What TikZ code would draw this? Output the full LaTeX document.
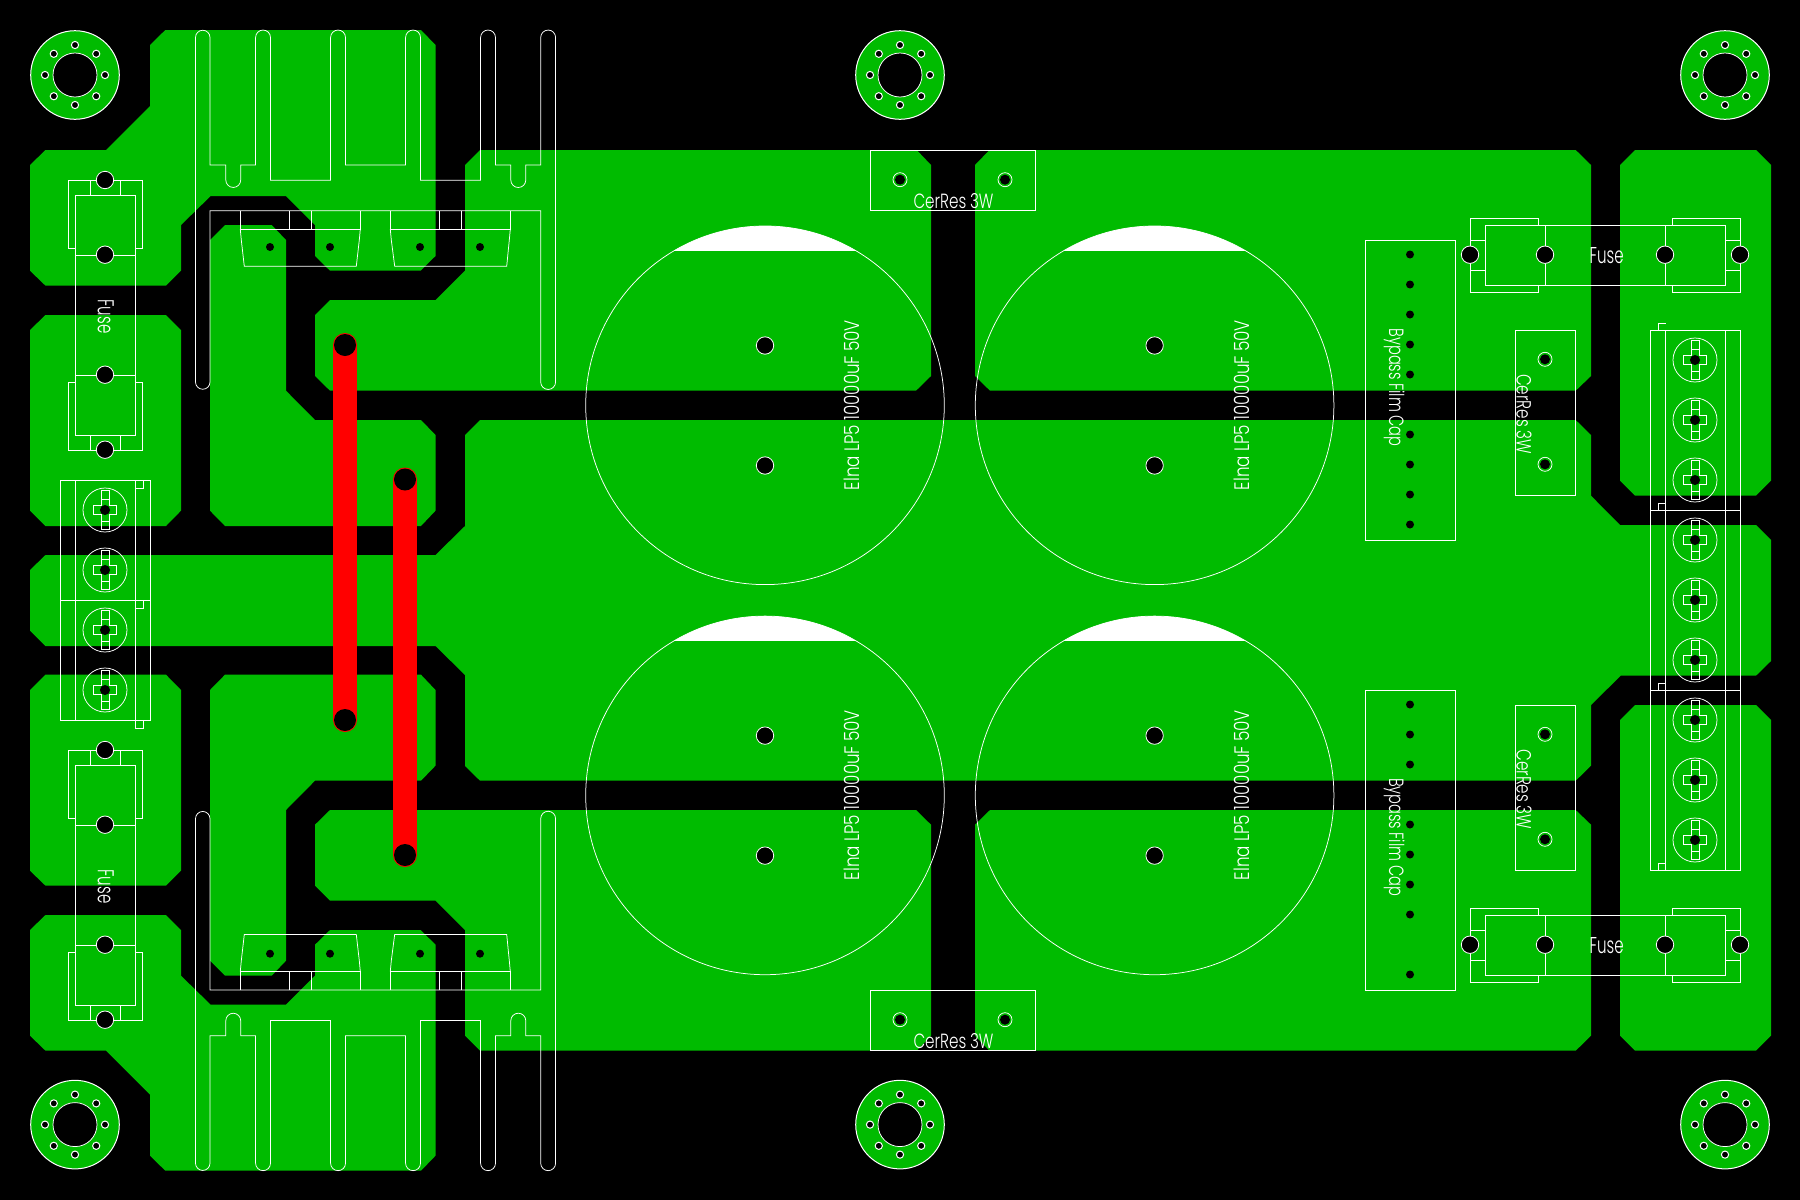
\documentclass[tikz,border=0pt]{standalone}
\usepackage{graphicx}
\usepackage{fontspec}
\newfontfamily\labfont{Poppins Light}
\definecolor{pcbgreen}{RGB}{0,187,0}
\definecolor{tracered}{RGB}{255,0,0}
\tikzset{
  x=1pt,y=-1pt,
  copper/.style={fill=pcbgreen,draw=none},
  wl/.style={draw=white,line width=1pt,line join=miter},
  thinl/.style={draw=white,line width=0.75pt},
  bighole/.style={fill=black,draw=white,line width=0.8pt},
  smallhole/.style={fill=black,draw=none},
  redtrace/.style={draw=tracered,line width=24pt,line cap=round},
  lab/.style={text=white,inner sep=0pt,outer sep=0pt,anchor=base,font=\fontsize{22}{24}\selectfont\labfont},
}
\newcommand\sizedtext[3]{\resizebox{#1pt}{#2pt}{\spaceskip .24em\relax #3}}
% copper of the upper half (mirrored for the lower half)
\newcommand\halfcopper{%
  \fill[copper] (165.3,30)--(421,30)--(435.5,45)--(435.5,256)--(420.7,270.7)--(330,270.7)--(315,256)--(315,225)--(286,196)--(210.7,196)--(181,225)--(181,270.7)--(166,285.7)--(45.5,285.7)--(30,270.7)--(30,165)--(45.5,150)--(106,150)--(150,106)--(150,45)--cycle;
  \fill[copper] (45.5,315)--(166,315)--(181,330)--(181,510.7)--(166,526)--(45.5,526)--(30,510.7)--(30,330)--cycle;
  \fill[copper] (480,150)--(916.7,150)--(931,165)--(931,376)--(916,390.7)--(330,390.7)--(315,376)--(315,315)--(330,300)--(435.5,300)--(465,270.7)--(465,165)--cycle;
  \fill[copper] (989.5,150)--(1575.7,150)--(1591,165)--(1591,376)--(1575.7,390.7)--(990,390.7)--(975,376)--(975,165)--cycle;
  \fill[copper] (225,225)--(271.7,225)--(286,240)--(286,390.7)--(315,420)--(421,420)--(435.5,435)--(435.5,510.7)--(421,526)--(225,526)--(210,510.7)--(210,240)--cycle;
  \fill[copper] (1635,150)--(1756,150)--(1771,165)--(1771,480.7)--(1756,495.7)--(1635,495.7)--(1620,480.7)--(1620,165)--cycle;
}
\newcommand\halfoutline{%
  \draw[thinl] (195.5,37.5) arc[start angle=180,end angle=0,radius=7.25pt]
    --(210,165)--(225.8,165)--(225.8,180) arc[start angle=180,end angle=360,radius=7.45pt]
    --(240.7,165)--(255.6,165)--(255.6,37.5) arc[start angle=180,end angle=0,radius=7.45pt]
    --(270.5,180.3)--(330.6,180.3)--(330.6,37.5) arc[start angle=180,end angle=0,radius=7.45pt]
    --(345.5,165)--(405.6,165)--(405.6,37.5) arc[start angle=180,end angle=0,radius=7.45pt]
    --(420.5,180.3)--(480.6,180.3)--(480.6,37.5) arc[start angle=180,end angle=0,radius=7.45pt]
    --(495.5,165)--(510.8,165)--(510.8,180) arc[start angle=180,end angle=360,radius=7.5pt]
    --(525.8,165)--(540.7,165)--(540.7,37.5) arc[start angle=180,end angle=0,radius=7.45pt]
    --(555.6,382) arc[start angle=0,end angle=-180,radius=7.45pt]
    --(540.7,210.7)--(210,210.7)--(210,382) arc[start angle=0,end angle=-180,radius=7.25pt]
    --cycle;
  \draw[wl] (240.3,210.7)--(240.3,229.3)--(360.3,229.3)--(360.3,210.7);
  \draw[wl] (289.3,210.7)--(289.3,229.3) (311.3,210.7)--(311.3,229.3);
  \draw[thinl] (240.3,229.3)--(241.3,240)--(244.3,266.3)--(356.3,266.3)--(359.3,240)--(360.3,229.3);
  \draw[wl] (390.3,210.7)--(390.3,229.3)--(510.3,229.3)--(510.3,210.7);
  \draw[wl] (439.3,210.7)--(439.3,229.3) (461.7,210.7)--(461.7,229.3);
  \draw[thinl] (390.3,229.3)--(391.3,240)--(394.7,266.3)--(506.7,266.3)--(509.3,240)--(510.3,229.3);
  \foreach \hx in {270,330,420,480} \fill[smallhole] (\hx,247) circle[radius=4pt];
}
\newcommand\mountpad[2]{%
  \begin{scope}[shift={(#1,#2)}]
    \fill[copper] (0,0) circle[radius=44.3pt];
    \draw[wl] (0,0) circle[radius=44.3pt];
    \fill[black] (0,0) circle[radius=22pt];
    \draw[thinl] (0,0) circle[radius=22pt];
    \foreach \a in {0,45,...,315} \filldraw[fill=black,draw=white,line width=1pt] (\a:30) circle[radius=3.6pt];
  \end{scope}}
\newcommand\elcap[2]{%
  \begin{scope}[shift={(#1,#2)}]
    \begin{scope}
      \clip (-180,-180) rectangle (180,-154.7);
      \fill[white] (0,0) circle[radius=179.3pt];
    \end{scope}
    \draw[thinl] (0,0) circle[radius=179.3pt];
    \filldraw[bighole] (0,-59.8) circle[radius=8.7pt];
    \filldraw[bighole] (0,60.2) circle[radius=8.7pt];
  \end{scope}}
\newcommand\myscrew[2]{%
  \begin{scope}[shift={(#1,#2)}]
    \draw[thinl] (0,0) circle[radius=22pt];
    \draw[thinl] (-4,-19.3)--(4,-19.3)--(4,-4.2)--(11.3,-4.2)--(11.3,4.2)--(4,4.2)--(4,19.3)--(-4,19.3)--(-4,4.2)--(-11.3,4.2)--(-11.3,-4.2)--(-4,-4.2)--cycle;
    \draw[thinl] (-4,-11)--(4,-11) (-4,11)--(4,11);
    \fill[smallhole] (0,0) circle[radius=5pt];
  \end{scope}}
\newcommand\leftfuse[1]{%
  \begin{scope}[shift={(0,#1)}]
    \draw[wl] (75.4,248.3)--(68.5,248.3)--(68.5,180.3)--(142.7,180.3)--(142.7,248.3)--(135.5,248.3);
    \draw[wl] (75.4,382.3)--(68.5,382.3)--(68.5,450.7)--(142.7,450.7)--(142.7,382.3)--(135.5,382.3);
    \draw[wl] (75.4,195.3) rectangle (135.5,435);
    \draw[wl] (75.4,255)--(135.5,255) (75.4,375)--(135.5,375);
    \draw[wl] (90.7,180.3)--(90.7,195.3) (120.5,180.3)--(120.5,195.3) (90.7,435)--(90.7,450.7) (120.5,435)--(120.5,450.7);
    \foreach \hy in {180,254.7,374.7,449.7} \filldraw[bighole] (105,\hy) circle[radius=8.7pt];
  \end{scope}}
\newcommand\rightfuse[1]{%
  \begin{scope}[shift={(0,#1)}]
    \draw[wl] (1485.3,225.3) rectangle (1725.7,285.3);
    \draw[wl] (1545.7,225.3)--(1545.7,285.3) (1665.7,225.3)--(1665.7,285.3);
    \draw[wl] (1538.7,225.3)--(1538.7,218.3)--(1470.3,218.3)--(1470.3,292.7)--(1538.7,292.7)--(1538.7,285.3);
    \draw[wl] (1672.3,225.3)--(1672.3,218.3)--(1740.7,218.3)--(1740.7,292.7)--(1672.3,292.7)--(1672.3,285.3);
    \draw[wl] (1470.3,240.3)--(1485.3,240.3) (1470.3,270.3)--(1485.3,270.3) (1725.7,240.3)--(1740.7,240.3) (1725.7,270.3)--(1740.7,270.3);
    \foreach \hx in {1470,1545,1665,1740} \filldraw[bighole] (\hx,254.7) circle[radius=8.7pt];
  \end{scope}}
\newcommand\ringhole[2]{%
  \draw[thinl] (#1,#2) circle[radius=7pt];
  \fill[smallhole] (#1,#2) circle[radius=5pt];}
\begin{document}
\begin{tikzpicture}
  \useasboundingbox (0,0) rectangle (1800,1200);
  \fill[black] (0,0) rectangle (1800,1200);
  % copper
  \halfcopper
  \begin{scope}[shift={(0,1200.7)},yscale=-1]\halfcopper\end{scope}
  \fill[copper] (30,570)--(45.5,555)--(435.5,555)--(465,526)--(465,435)--(480,420)--(1575.7,420)--(1591,435)--(1591,495.7)--(1620,525)--(1756,525)--(1771,540)--(1771,661)--(1756,675.7)--(1620.7,675.7)--(1591,705)--(1591,765.7)--(1575.7,780.7)--(480,780.7)--(465,766)--(465,675)--(435.5,646)--(45.5,646)--(30,630.7)--cycle;
  % mounting pads
  \foreach \px in {75,900,1725} { \mountpad{\px}{75} \mountpad{\px}{1124.6} }
  % heat sinks and transistors
  \halfoutline
  \begin{scope}[shift={(0,1200.7)},yscale=-1]\halfoutline\end{scope}
  % electrolytic capacitors
  \elcap{765}{405.3}
  \elcap{1154.6}{405.3}
  \elcap{765}{795.4}
  \elcap{1154.6}{795.4}
  \node[lab,rotate=90] (elna1) at (859.3,405) {\sizedtext{170}{15.5}{Elna LP5 10000uF 50V}};
  \node[lab,rotate=90] (elna2) at (1249.3,405) {\sizedtext{170}{15.5}{Elna LP5 10000uF 50V}};
  \node[lab,rotate=90] (elna3) at (859.3,795) {\sizedtext{170}{15.5}{Elna LP5 10000uF 50V}};
  \node[lab,rotate=90] (elna4) at (1249.3,795) {\sizedtext{170}{15.5}{Elna LP5 10000uF 50V}};
  % fuses
  \leftfuse{0}
  \leftfuse{570}
  \rightfuse{0}
  \rightfuse{690}
  \node[lab,rotate=-90] (fuseA) at (97.8,316.5) {\sizedtext{34}{16}{Fuse}};
  \node[lab,rotate=-90] (fuseB) at (97.8,886.5) {\sizedtext{34}{16}{Fuse}};
  \node[lab] (fuseC) at (1606.7,263) {\sizedtext{34}{16}{Fuse}};
  \node[lab] (fuseD) at (1606.7,953) {\sizedtext{34}{16}{Fuse}};
  % left terminal block
  \draw[wl] (60.5,480.3) rectangle (150.8,720.3);
  \draw[wl] (75.4,480.3)--(75.4,720.3) (135.5,480.3)--(135.5,720.3) (60.5,600.3)--(150.8,600.3);
  \draw[wl] (135.5,488.7)--(143.5,488.7)--(143.5,480.3);
  \draw[wl] (135.5,608.7)--(143.5,608.7)--(143.5,600.3);
  \draw[wl] (135.5,720.3)--(135.5,728.7)--(143.5,728.7)--(143.5,720.3);
  \foreach \sy in {510,570,630,690} { \myscrew{105}{\sy} }
  % right terminal block
  \draw[wl] (1650.3,330.3) rectangle (1740.7,870.3);
  \draw[wl] (1665.7,330.3)--(1665.7,870.3) (1725.7,330.3)--(1725.7,870.3) (1650.3,510)--(1740.7,510) (1650.3,690.3)--(1740.7,690.3);
  \draw[wl] (1658.3,330.3)--(1658.3,323.3)--(1665.7,323.3);
  \draw[wl] (1658.3,510)--(1658.3,503.3)--(1665.7,503.3);
  \draw[wl] (1658.3,690.3)--(1658.3,683.3)--(1665.7,683.3);
  \draw[wl] (1658.3,870.3)--(1658.3,863.3)--(1665.7,863.3);
  \foreach \sy in {360,420,...,840} { \myscrew{1695}{\sy} }
  % bypass film caps
  \draw[wl] (1365.3,240.3) rectangle (1455.7,540.3);
  \draw[wl] (1365.3,690.3) rectangle (1455.7,990.3);
  \foreach \hy in {254.5,284.5,314.5,344.5,374.5,434.5,464.5,494.5,524.5,704.5,734.5,764.5,824.5,854.5,884.5,914.5,974.5} \fill[smallhole] (1410,\hy) circle[radius=4pt];
  \node[lab,rotate=-90] (byp1) at (1389,387.5) {\sizedtext{118}{15.5}{Bypass Film Cap}};
  \node[lab,rotate=-90] (byp2) at (1389,837) {\sizedtext{118}{15.5}{Bypass Film Cap}};
  % ceramic resistors
  \draw[wl] (1515.3,330.3) rectangle (1575.7,495.7);
  \draw[wl] (1515.3,705.3) rectangle (1575.7,870.3);
  \draw[wl] (870.3,150.7) rectangle (1035.7,210.3);
  \draw[wl] (870.3,990.7) rectangle (1035.7,1050.3);
  \ringhole{1545}{359.3}\ringhole{1545}{464.3}
  \ringhole{1545}{734.3}\ringhole{1545}{839.3}
  \ringhole{900}{179.7}\ringhole{1005}{179.7}
  \ringhole{900}{1019.7}\ringhole{1005}{1019.7}
  \node[lab,rotate=-90] (cer1) at (1516.7,414) {\sizedtext{80}{15}{CerRes 3W}};
  \node[lab,rotate=-90] (cer2) at (1516.7,789.3) {\sizedtext{80}{15}{CerRes 3W}};
  \node[lab] (cer3) at (953.5,208) {\sizedtext{80}{15}{CerRes 3W}};
  \node[lab] (cer4) at (953.5,1048) {\sizedtext{80}{15}{CerRes 3W}};
  % red jumpers
  \coordinate (j1a) at (345,345);
  \coordinate (j1b) at (345,720);
  \coordinate (j2a) at (405,479.5);
  \coordinate (j2b) at (405,855);
  \draw[redtrace] (j1a)--(j1b);
  \draw[redtrace] (j2a)--(j2b);
  \foreach \j in {j1a,j1b,j2a,j2b} \fill[black] (\j) circle[radius=11pt];
\end{tikzpicture}
\end{document}
